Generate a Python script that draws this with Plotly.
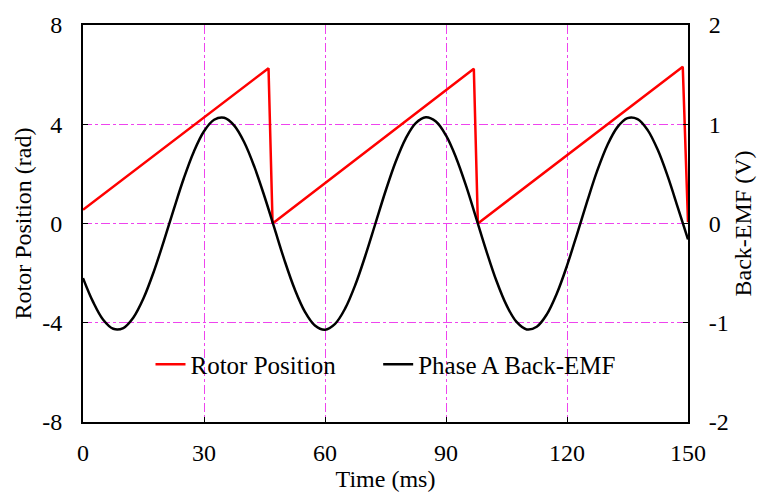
import plotly.graph_objects as go

# Rotor position (rad) - sawtooth corner points
rotor_t = [0, 45.6, 46.0, 47.0, 96.6, 96.9, 97.9, 148.4, 148.7, 150.0]
rotor_pos = [0.55, 6.20, 6.26, 0.0, 6.20, 6.24, 0.0, 6.28, 6.32, 0.05]

emf_t = [0, 2.5, 5, 7.5, 10, 12.5, 15, 17.5, 20, 22.5, 25, 27.5, 30, 32.5, 35, 37.5,
         40, 42.5, 45, 47.5, 50, 52.5, 55, 57.5, 60, 62.5, 65, 67.5, 70, 72.5, 75,
         77.5, 80, 82.5, 85, 87.5, 90, 92.5, 95, 97.5, 100, 102.5, 105, 107.5, 110,
         112.5, 115, 117.5, 120, 122.5, 125, 127.5, 130, 132.5, 135, 137.5, 140,
         142.5, 145, 147.5, 150]
emf_v = [-0.55, -0.79, -0.97, -1.061, -1.053, -0.947, -0.754, -0.491, -0.182, 0.143,
         0.456, 0.726, 0.929, 1.045, 1.065, 0.986, 0.816, 0.570, 0.272, -0.052,
         -0.376, -0.663, -0.887, -1.027, -1.070, -1.011, -0.856, -0.620, -0.325, 0.0,
         0.325, 0.620, 0.856, 1.011, 1.070, 1.027, 0.887, 0.663, 0.376, 0.052,
         -0.275, -0.577, -0.823, -0.992, -1.067, -1.040, -0.915, -0.703, -0.425, -0.106,
         0.222, 0.532, 0.789, 0.971, 1.062, 1.052, 0.941, 0.742, 0.472, 0.158, -0.160]

x_ticks = [0, 30, 60, 90, 120, 150]
y_ticks = [-8, -4, 0, 4, 8]
y_tick_text = ["-8", "-4", "0", "4", "8"]
y2_ticks = [-2, -1, 0, 1, 2]
y2_tick_text = ["-2", "-1", "0", "1", "2"]

FONT = "Liberation Serif, Times New Roman, serif"
GRID = "#ee44ee"
FS = 24

fig = go.Figure()
fig.add_trace(go.Scatter(x=rotor_t, y=rotor_pos, mode="lines",
                         name="Rotor Position" + "\u00a0" * 6,
                         line=dict(color="#ff0000", width=2.5), yaxis="y"))
fig.add_trace(go.Scatter(x=emf_t, y=emf_v, mode="lines", name="Phase A Back-EMF",
                         line=dict(color="#000000", width=2.5, shape="spline", smoothing=1),
                         yaxis="y2"))

axis_common = dict(showline=True, linecolor="black", linewidth=2, ticks="inside",
                   ticklen=5, tickwidth=1, tickcolor="black", zeroline=False,
                   tickfont=dict(family=FONT, size=FS, color="black"))

fig.update_layout(
    width=764, height=500,
    margin=dict(l=83, r=76, t=22, b=78),
    paper_bgcolor="white", plot_bgcolor="white",
    font=dict(family=FONT, size=FS, color="black"),
    showlegend=True,
    legend=dict(orientation="h", x=0.5, xanchor="center", y=0.145, yanchor="middle",
                bgcolor="rgba(0,0,0,0)", font=dict(family=FONT, size=25, color="black"),
                itemwidth=30, tracegroupgap=0),
    xaxis=dict(range=[0, 150], tickmode="array", tickvals=x_ticks,
               mirror=True, showgrid=True, gridcolor=GRID, gridwidth=1, griddash="dashdot",
               title=dict(text="Time (ms)", font=dict(family=FONT, size=FS), standoff=4),
               ticklabelstandoff=8, **axis_common),
    yaxis=dict(range=[-8, 8], tickmode="array", tickvals=y_ticks, ticktext=y_tick_text,
               showgrid=True, gridcolor=GRID, gridwidth=1, griddash="dashdot",
               title=dict(text="Rotor Position (rad)", font=dict(family=FONT, size=FS), standoff=4),
               ticklabelstandoff=14, **axis_common),
    yaxis2=dict(range=[-2, 2], tickmode="array", tickvals=y2_ticks, ticktext=y2_tick_text,
                overlaying="y", side="right", showgrid=False,
                title=dict(text="Back-EMF (V)", font=dict(family=FONT, size=FS), standoff=6),
                ticklabelstandoff=14, **axis_common),
)

fig.write_html("out.html")
